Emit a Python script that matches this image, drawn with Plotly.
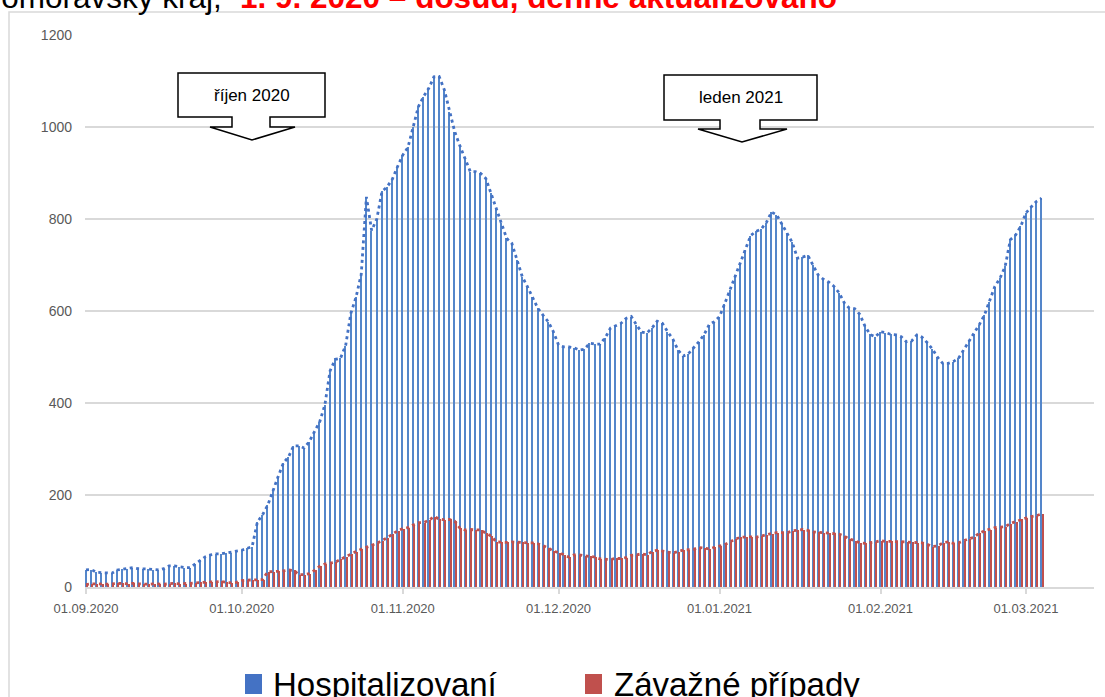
import pandas as pd
import plotly.graph_objects as go

# ---- data ----
start_date = "2020-09-01"
hospitalizovani = [
    37, 38, 32, 31, 31, 30, 37, 39, 40, 42,
    40, 40, 39, 38, 37, 40, 46, 46, 44, 42,
    42, 50, 59, 66, 70, 72, 72, 74, 75, 78,
    80, 84, 88, 141, 157, 178, 211, 240, 269, 283,
    307, 307, 302, 316, 338, 359, 396, 470, 495, 497,
    525, 595, 630, 680, 848, 775, 800, 860, 870, 887,
    914, 939, 956, 1001, 1044, 1066, 1084, 1109, 1110, 1081,
    1033, 990, 959, 930, 903, 903, 899, 888, 856, 822,
    791, 758, 747, 711, 675, 653, 631, 606, 591, 577,
    555, 526, 522, 522, 520, 515, 517, 530, 528, 528,
    542, 563, 568, 573, 584, 588, 570, 554, 552, 563,
    578, 573, 555, 539, 515, 502, 507, 519, 533, 548,
    570, 577, 588, 616, 645, 678, 705, 733, 764, 773,
    778, 792, 815, 809, 789, 769, 749, 715, 717, 721,
    700, 678, 669, 663, 654, 640, 618, 606, 605, 593,
    567, 549, 544, 555, 553, 549, 548, 544, 533, 535,
    548, 543, 531, 517, 499, 486, 486, 490, 497, 515,
    535, 550, 570, 591, 620, 653, 671, 697, 755, 765,
    784, 813, 826, 838, 845,
]
zavazne = [
    5, 7, 7, 6, 6, 7, 8, 8, 7, 8,
    7, 6, 6, 7, 6, 6, 7, 8, 7, 7,
    8, 9, 10, 10, 11, 11, 12, 10, 9, 10,
    14, 15, 15, 16, 16, 33, 33, 34, 35, 37,
    36, 27, 27, 29, 36, 45, 50, 52, 54, 60,
    66, 71, 77, 82, 86, 90, 95, 101, 107, 115,
    122, 127, 129, 135, 140, 140, 145, 153, 148, 146,
    147, 143, 128, 124, 125, 124, 124, 117, 111, 98,
    97, 97, 98, 97, 97, 96, 96, 94, 90, 85,
    78, 75, 70, 65, 70, 70, 68, 67, 65, 61,
    60, 60, 62, 62, 64, 69, 70, 72, 70, 77,
    80, 78, 75, 74, 77, 80, 81, 82, 86, 84,
    83, 86, 89, 92, 98, 104, 108, 109, 109, 108,
    111, 113, 116, 118, 118, 118, 122, 124, 125, 123,
    120, 119, 118, 118, 117, 115, 111, 104, 101, 96,
    95, 96, 98, 101, 99, 99, 99, 99, 98, 97,
    96, 96, 93, 88, 89, 96, 98, 95, 96, 101,
    105, 108, 117, 122, 125, 129, 130, 131, 138, 142,
    147, 150, 153, 155, 159,
]
series_names = ["Hospitalizovaní", "Závažné případy"]
callout_labels = ["říjen 2020", "leden 2021"]
title_black = "Jihomoravský kraj,"
title_red = "1. 9. 2020 – dosud, denně aktualizováno"

dates = pd.date_range(start_date, periods=len(hospitalizovani), freq="D")

# ---- layout geometry ----
W, H = 1105, 697
L, R, T, B = 85, 11, 35, 110
PW, PH = W - L - R, H - T - B


def px(x):
    return (x - L) / PW


def py(y):
    return (H - B - y) / PH


DAY = 86400000
BLUE = "#5486ca"
BLUE_LINE = "#4472c4"
RED = "#c0504d"

fig = go.Figure()
fig.add_trace(go.Bar(x=dates, y=hospitalizovani, name=series_names[0],
                     marker=dict(color=BLUE, line=dict(width=0)),
                     width=0.2 * DAY, offset=-0.15 * DAY, showlegend=False))
fig.add_trace(go.Bar(x=dates, y=zavazne, name=series_names[1],
                     marker=dict(color=RED, line=dict(width=0)),
                     width=0.2 * DAY, offset=0.1 * DAY, showlegend=False))
fig.add_trace(go.Scatter(x=dates, y=hospitalizovani, mode="lines",
                         line=dict(color=BLUE_LINE, width=2.8, dash="3px,3.5px"),
                         showlegend=False, hoverinfo="skip"))
fig.add_trace(go.Scatter(x=dates, y=zavazne, mode="lines",
                         line=dict(color=RED, width=2.8, dash="3px,3.5px"),
                         showlegend=False, hoverinfo="skip"))

shapes = []
# outer chart frame
shapes.append(dict(type="rect", xref="paper", yref="paper",
                   x0=px(9), x1=px(1115), y0=py(12), y1=py(720),
                   line=dict(color="#d9d9d9", width=1.5), layer="below"))


def callout(bx0, bx1, by0, by1, sx0, sx1, sy, ax0, ax1, tipx, tipy):
    pts = [(bx0, by0), (bx1, by0), (bx1, by1), (sx1, by1), (sx1, sy), (ax1, sy),
           (tipx, tipy), (ax0, sy), (sx0, sy), (sx0, by1), (bx0, by1)]
    path = "M " + " L ".join(f"{px(a):.5f},{py(b):.5f}" for a, b in pts) + " Z"
    return dict(type="path", xref="paper", yref="paper", path=path,
                fillcolor="white", line=dict(color="black", width=1.5), layer="above")


shapes.append(callout(178, 325, 73, 117, 232, 270, 127, 210, 295, 252, 140))
shapes.append(callout(664, 817, 75, 120, 720, 760, 129, 698, 787, 742, 142))

# legend squares
shapes.append(dict(type="rect", xref="paper", yref="paper", x0=px(245), x1=px(262),
                   y0=py(674), y1=py(694), fillcolor=BLUE_LINE, line=dict(width=0)))
shapes.append(dict(type="rect", xref="paper", yref="paper", x0=px(585), x1=px(602),
                   y0=py(674), y1=py(694), fillcolor=RED, line=dict(width=0)))

annotations = [
    dict(text=callout_labels[0], x=px(251.5), y=py(95), xref="paper", yref="paper",
         xanchor="center", yanchor="middle", showarrow=False,
         font=dict(family="Liberation Sans", size=17, color="black")),
    dict(text=callout_labels[1], x=px(740.5), y=py(97.5), xref="paper", yref="paper",
         xanchor="center", yanchor="middle", showarrow=False,
         font=dict(family="Liberation Sans", size=17, color="black")),
    dict(text=series_names[0], x=px(271), y=py(684), xref="paper", yref="paper",
         xanchor="left", yanchor="middle", showarrow=False,
         font=dict(family="Liberation Sans", size=33, color="black")),
    dict(text=series_names[1], x=px(612), y=py(684), xref="paper", yref="paper",
         xanchor="left", yanchor="middle", showarrow=False,
         font=dict(family="Liberation Sans", size=33, color="black")),
    dict(text="<b>" + title_red + "</b>", x=px(839), y=py(-3), xref="paper", yref="paper",
         xanchor="right", yanchor="middle", showarrow=False,
         font=dict(family="Liberation Sans", size=31.5, color="#ff0000")),
    dict(text=title_black, x=px(224), y=py(-3), xref="paper", yref="paper",
         xanchor="right", yanchor="middle", showarrow=False,
         font=dict(family="Liberation Sans", size=31.5, color="black")),
]

x0 = pd.Timestamp(start_date) - pd.Timedelta(days=(86 - L) / 5.193)
x1 = pd.Timestamp(start_date) + pd.Timedelta(days=(W - R - 86) / 5.193)

fig.update_layout(
    width=W, height=H,
    margin=dict(l=L, r=R, t=T, b=B, pad=0),
    paper_bgcolor="white", plot_bgcolor="white",
    barmode="overlay", bargap=0,
    shapes=shapes, annotations=annotations,
    font=dict(family="Liberation Sans", color="#595959"),
    xaxis=dict(type="date", range=[x0, x1], tick0=start_date, dtick="M1",
               tickformat="%d.%m.%Y", showgrid=False, showline=True,
               linecolor="#d9d9d9", linewidth=1.5, ticks="outside", ticklen=5,
               tickcolor="#d9d9d9", tickwidth=1.5,
               tickfont=dict(family="Liberation Sans", size=13, color="#595959"),
               ticklabelstandoff=4, zeroline=False),
    yaxis=dict(range=[0, 1200], dtick=200, showgrid=True, gridcolor="#d9d9d9",
               gridwidth=1.5, showline=False, zeroline=False, ticks="",
               tickfont=dict(family="Liberation Sans", size=14, color="#595959"),
               ticklabelstandoff=12),
)

fig.write_html("out.html", config={"displayModeBar": False},
               post_script="document.body.style.margin='0px';document.body.style.padding='0px';")
